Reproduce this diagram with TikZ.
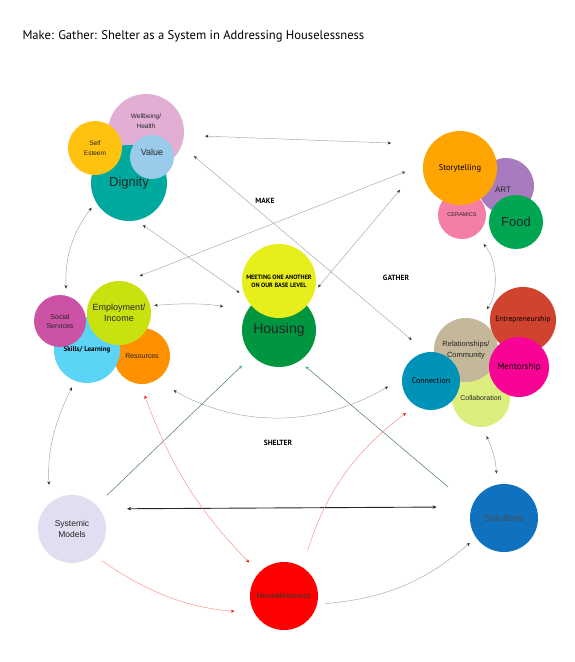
\documentclass[tikz,border=0pt]{standalone}
\usepackage{fontspec}
\setmainfont{Liberation Sans}
\newfontfamily\ptsans{PT Sans}
\usetikzlibrary{arrows.meta}

\newcommand{\fz}[2]{\fontsize{#1}{#2}\selectfont}

\definecolor{cWell}{HTML}{E3AED4}
\definecolor{cDign}{HTML}{00A99D}
\definecolor{cSelf}{HTML}{FFC20E}
\definecolor{cValue}{HTML}{9BCBEB}
\definecolor{cStory}{HTML}{FFA400}
\definecolor{cArt}{HTML}{A87BBE}
\definecolor{cCeram}{HTML}{F47FA6}
\definecolor{cFood}{HTML}{00A651}
\definecolor{cSocial}{HTML}{CC52A6}
\definecolor{cEmploy}{HTML}{C9E20F}
\definecolor{cSkills}{HTML}{5BD4F6}
\definecolor{cResour}{HTML}{FF9000}
\definecolor{cMeet}{HTML}{E6EE1B}
\definecolor{cHouse}{HTML}{00963F}
\definecolor{cRelat}{HTML}{C5B89A}
\definecolor{cEntre}{HTML}{D0432F}
\definecolor{cMentor}{HTML}{F70395}
\definecolor{cCollab}{HTML}{DDED7E}
\definecolor{cConnect}{HTML}{0093B7}
\definecolor{cSys}{HTML}{E0DEF1}
\definecolor{cHomeless}{HTML}{FF0000}
\definecolor{cSolut}{HTML}{1071BF}
\definecolor{cGreenLn}{HTML}{4C7D5E}
\definecolor{cGreenTip}{HTML}{3DB86A}
\definecolor{cRedLn}{HTML}{FF8A8A}

\begin{document}
\begin{tikzpicture}[x=1pt, y=-1pt, font=\fz{7}{8.5},
  bub/.style={circle, inner sep=0pt, align=center, text=black!85},
  lbl/.style={align=center, text=black!85},
  hd/.style={font=\ptsans\bfseries\fz{7.5}{9}},
  a/.style={draw=gray!70, line width=0.45pt,
    {Stealth[length=3.5pt, width=3pt, color=black!80]}-{Stealth[length=3.5pt, width=3pt, color=black!80]}},
  a1/.style={draw=gray!70, line width=0.45pt, -{Stealth[length=3.5pt, width=3pt, color=black!80]}},
  ab/.style={draw=black!85, line width=0.9pt,
    {Stealth[length=4pt, width=3.5pt]}-{Stealth[length=4pt, width=3.5pt]}},
  ar/.style={draw=cRedLn, line width=0.45pt,
    {Stealth[length=3.5pt, width=3pt, color=red]}-{Stealth[length=3.5pt, width=3pt, color=red]}},
  ar1/.style={draw=cRedLn, line width=0.45pt, -{Stealth[length=3.5pt, width=3pt, color=red]}},
  ag/.style={draw=cGreenLn, line width=0.5pt, -{Stealth[length=3.5pt, width=3pt, color=cGreenTip]}}]
  \fill[white] (0,0) rectangle (575,662);
  \useasboundingbox (0,0) rectangle (575,662);

  \node[anchor=west, font=\ptsans\fz{12.6}{14}] (title) at (19,36)
    {Make: Gather: Shelter as a System in Addressing Houselessness};

  % make
  \node[bub, fill=cWell, minimum size=76pt,
    label={[lbl, font=\fz{6.5}{9.5}, yshift=11pt]center:{Wellbeing/\\Health}}] (wellb) at (146,132) {};
  \node[bub, fill=cDign, minimum size=76pt, font=\fz{13}{15}] (dign) at (129,183) {Dignity};
  \node[bub, fill=cSelf, minimum size=54pt, font=\fz{6.5}{10}] (selfe) at (95,148) {Self\\Esteem};
  \node[bub, fill=cValue, minimum size=44pt,
    label={[lbl, font=\fz{9}{10}, yshift=5pt]center:Value}] (value) at (152,157) {};

  % gather
  \node[bub, fill=cArt, minimum size=56pt,
    label={[lbl, font=\fz{8}{9}, xshift=-3pt, yshift=-4pt]center:ART}] (art) at (506,186) {};
  \node[bub, fill=cCeram, minimum size=48pt, font=\fz{5.5}{7}] (ceram) at (462,215) {CERAMICS};
  \node[bub, fill=cStory, minimum size=74pt, font=\ptsans\fz{8.5}{10}, text=black] (story) at (460,168) {Storytelling};
  \node[bub, fill=cFood, minimum size=54pt, font=\fz{13}{15}] (food) at (516,222) {Food};

  % shelter
  \node[bub, fill=cResour, minimum size=56pt, font=\fz{7}{8}] (resour) at (142,356) {Resources};
  \node[bub, fill=cSkills, minimum size=66pt, font=\ptsans\bfseries\fz{7}{8}, text=black] (skills) at (87,350) {Skills/ Learning};
  \node[bub, fill=cSocial, minimum size=52pt, font=\fz{7}{9}] (social) at (60,321) {Social\\Services};
  \node[bub, fill=cEmploy, minimum size=64pt, font=\fz{9}{11}] (employ) at (119,313) {Employment/\\Income};

  \node[bub, fill=cHouse, minimum size=74pt, font=\fz{14}{16}] (house) at (279,330) {Housing};
  \node[bub, fill=cMeet, minimum size=74pt, font=\ptsans\bfseries\fz{6.2}{8}, text=black] (meet) at (279,281)
    {MEETING ONE ANOTHER\\ON OUR BASE LEVEL};

  \node[bub, fill=cCollab, minimum size=58pt, font=\fz{7}{8}] (collab) at (481,398) {Collaboration};
  \node[bub, fill=cRelat, minimum size=64pt, font=\fz{7.5}{10.5}] (relat) at (466,350) {Relationships/\\Community};
  \node[bub, fill=cEntre, minimum size=66pt, font=\ptsans\fz{7.5}{9}, text=black] (entre) at (523,320) {Entrepreneurship};
  \node[bub, fill=cMentor, minimum size=60pt, font=\ptsans\fz{9}{10}, text=black] (mentor) at (519,367) {Mentorship};
  \node[bub, fill=cConnect, minimum size=58pt, font=\ptsans\fz{8}{9}, text=black] (connect) at (431,381) {Connection};

  \node[bub, fill=cSys, minimum size=68pt, font=\fz{8.5}{11}] (sysmod) at (72,529) {Systemic\\Models};
  \node[bub, fill=cHomeless, minimum size=68pt, font=\fz{8}{9}, text=black!80] (homeless) at (284,596) {Houselessness};
  \node[bub, fill=cSolut, minimum size=68pt, font=\fz{9.5}{11}, text=black!70] (solut) at (504,518) {Solutions};

  \node[hd] (mk) at (265,201) {MAKE};
  \node[hd] (ga) at (396,278) {GATHER};
  \node[hd] (sh) at (278,443) {SHELTER};

  % connectors
  \draw[a, shorten <=21pt, shorten >=40pt] (wellb.-5) -- (story.141);
  \draw[a, shorten <=16pt, shorten >=31pt] (wellb.-21) -- (relat.198);
  \draw[a, shorten <=15pt, shorten >=19pt] (employ.78) -- (story.175);
  \draw[a, shorten <=36pt, shorten >=5pt] (story.171) -- (meet.-16);
  \draw[a, shorten <=8pt, shorten >=7pt] (dign.-79) -- (meet.205);
  \draw[a, shorten <=7pt, shorten >=7pt] (dign.210) to[bend right=20] (social.76);
  \draw[a, shorten <=4pt, shorten >=24pt] (employ.13) to[bend left=8] (house.150);
  \draw[a, shorten <=12pt, shorten >=14pt] (ceram.-56) to[bend left=40] (relat.68);
  \draw[a, shorten <=20pt, shorten >=16pt] (resour.-60) to[bend right=30] (connect.175);
  \draw[a, shorten <=7pt, shorten >=18pt] (skills.249) to[bend right=15] (sysmod.130);
  \draw[a, shorten <=10pt, shorten >=11pt] (collab.-88) to[bend left=12] (solut.102);
  \draw[ab, shorten <=27.5pt, shorten >=35pt] (sysmod.36) -- (solut.161);
  \draw[ag, shorten <=14pt, shorten >=14pt] (sysmod.44) -- (house.224);
  \draw[ag, shorten <=31pt, shorten >=8pt] (solut.161) -- (house.-57);
  \draw[ar, shorten <=14pt, shorten >=12pt] (homeless.137) to[bend left=12] (resour.267);
  \draw[ar1, shorten <=17pt, shorten >=12pt] (homeless.57) to[bend left=18] (connect.238);
  \draw[ar1, shorten <=10pt, shorten >=20pt] (sysmod.-50) to[bend right=15] (homeless.210);
  \draw[a1, shorten <=8pt, shorten >=8pt] (homeless.-14) to[bend right=18] (solut.215);
\end{tikzpicture}
\end{document}
